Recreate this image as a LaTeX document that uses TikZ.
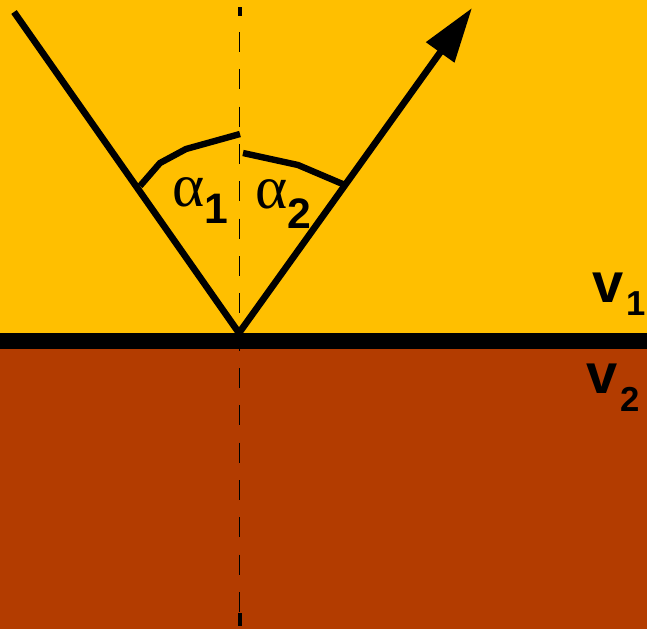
\documentclass[tikz,border=0pt]{standalone}
\usepackage{fontspec}
\setmainfont{Liberation Sans}
\newfontfamily\grkfont{Liberation Serif}
\usetikzlibrary{arrows.meta}
\definecolor{upper}{HTML}{FFBF00}
\definecolor{lower}{HTML}{B33C00}
\tikzset{
  ray/.style={line width=5pt},
  arcline/.style={line width=4.8pt},
  normal/.style={line width=0.9pt, dash pattern=on 15pt off 13pt, dash phase=-12pt},
  endtick/.style={line width=3pt},
  greek/.style={inner sep=0pt, font=\fontsize{46}{46}\selectfont\grkfont},
  sub/.style={inner sep=0pt, font=\fontsize{32}{32}\selectfont\bfseries},
  lbl/.style={inner sep=0pt, font=\fontsize{42}{42}\selectfont\bfseries},
  vsub/.style={inner sep=0pt, font=\fontsize{26}{26}\selectfont\bfseries},
}
\begin{document}
\begin{tikzpicture}[x=0.75pt,y=-0.75pt]
\useasboundingbox (0,0) rectangle (647,629);
\fill[upper] (0,0) rectangle (647,333);
\fill[lower] (0,349) rectangle (647,629);
\fill[black] (0,333) rectangle (647,349);
\coordinate (top) at (239.5,7);
\coordinate (topb) at (239.5,16);
\coordinate (bot) at (239.5,626);
\coordinate (botb) at (239.5,613);
\draw[normal] (topb) -- (botb);
\draw[endtick] (top) -- (topb);
\draw[endtick] (botb) -- (bot);
\coordinate (start) at (14,12);
\coordinate (hit) at (239,333);
\coordinate (tip) at (472,8);
\draw[ray] (start) -- (hit);
\draw[ray, -{Triangle[length=41pt,width=25pt]}] (hit) -- (tip);
\draw[arcline] (140,186) -- (160,163) -- (186,149) -- (240,134);
\draw[arcline] (243,153) -- (298,165) -- (345,185);
\node[greek, anchor=base west] (a1) at (172,206) {α};
\node[sub, anchor=base west] (s1) at ([yshift=-13pt]a1.base east) {1};
\node[greek, anchor=base west] (a2) at (255,208) {α};
\node[sub, anchor=base west] (s2) at ([yshift=-15pt]a2.base east) {2};
\node[lbl, anchor=base west] (v1) at (592,302) {v};
\node[vsub, anchor=base west] (n1) at ([xshift=2pt,yshift=-10pt]v1.base east) {1};
\node[lbl, anchor=base west] (v2) at (586,393) {v};
\node[vsub, anchor=base west] (n2) at ([xshift=2pt,yshift=-14pt]v2.base east) {2};
\end{tikzpicture}
\end{document}
